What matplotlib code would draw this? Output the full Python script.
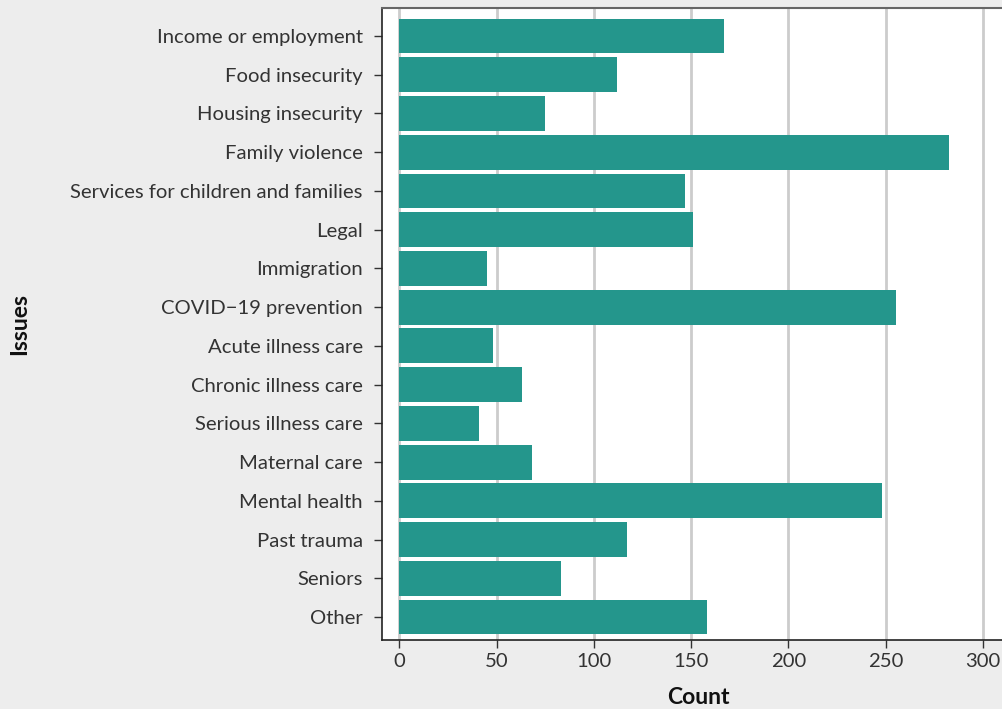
import matplotlib.pyplot as plt

# data
issues = [
    "Income or employment",
    "Food insecurity",
    "Housing insecurity",
    "Family violence",
    "Services for children and families",
    "Legal",
    "Immigration",
    "COVID\u221219 prevention",
    "Acute illness care",
    "Chronic illness care",
    "Serious illness care",
    "Maternal care",
    "Mental health",
    "Past trauma",
    "Seniors",
    "Other",
]
counts = [167, 112, 75, 282.5, 147, 151, 45, 255.5, 48, 63, 41, 68, 248, 117, 83, 158]
x_ticks = [0, 50, 100, 150, 200, 250, 300]

plt.rcParams["font.family"] = ["Lato", "DejaVu Sans"]

fig = plt.figure(figsize=(10.03, 7.09), dpi=100)
fig.patch.set_facecolor("#ededed")

ax = fig.add_axes([0.381, 0.0973, 0.63, 0.8914])
ax.set_facecolor("white")

positions = list(range(len(issues)))
ax.barh(positions, counts, height=0.9, color="#24968c", zorder=3)

ax.set_yticks(positions)
ax.set_yticklabels(issues)
ax.set_ylim(15.594, -0.723)

ax.set_xticks(x_ticks)
ax.set_xlim(-8.9, 316)

ax.grid(axis="x", color="#cccccc", linewidth=2, zorder=0)
ax.grid(axis="y", visible=False)

for side in ["left", "bottom"]:
    ax.spines[side].set_color("#222222")
    ax.spines[side].set_linewidth(1.2)
ax.spines["top"].set_color("#666666")
ax.spines["top"].set_linewidth(1.5)
ax.spines["right"].set_visible(False)

ax.tick_params(axis="both", labelsize=14.6, colors="#333333", length=6, width=1)
ax.tick_params(axis="y", pad=8)

ax.set_xlabel("Count", fontsize=16.5, fontweight="bold", color="#111111")
ax.set_ylabel("Issues", fontsize=16.5, fontweight="bold", color="#111111")
ax.xaxis.set_label_coords(0.5, -0.074)
ax.yaxis.set_label_coords(-0.557, 0.5)

fig.savefig("out.png", dpi=100, facecolor=fig.get_facecolor())
